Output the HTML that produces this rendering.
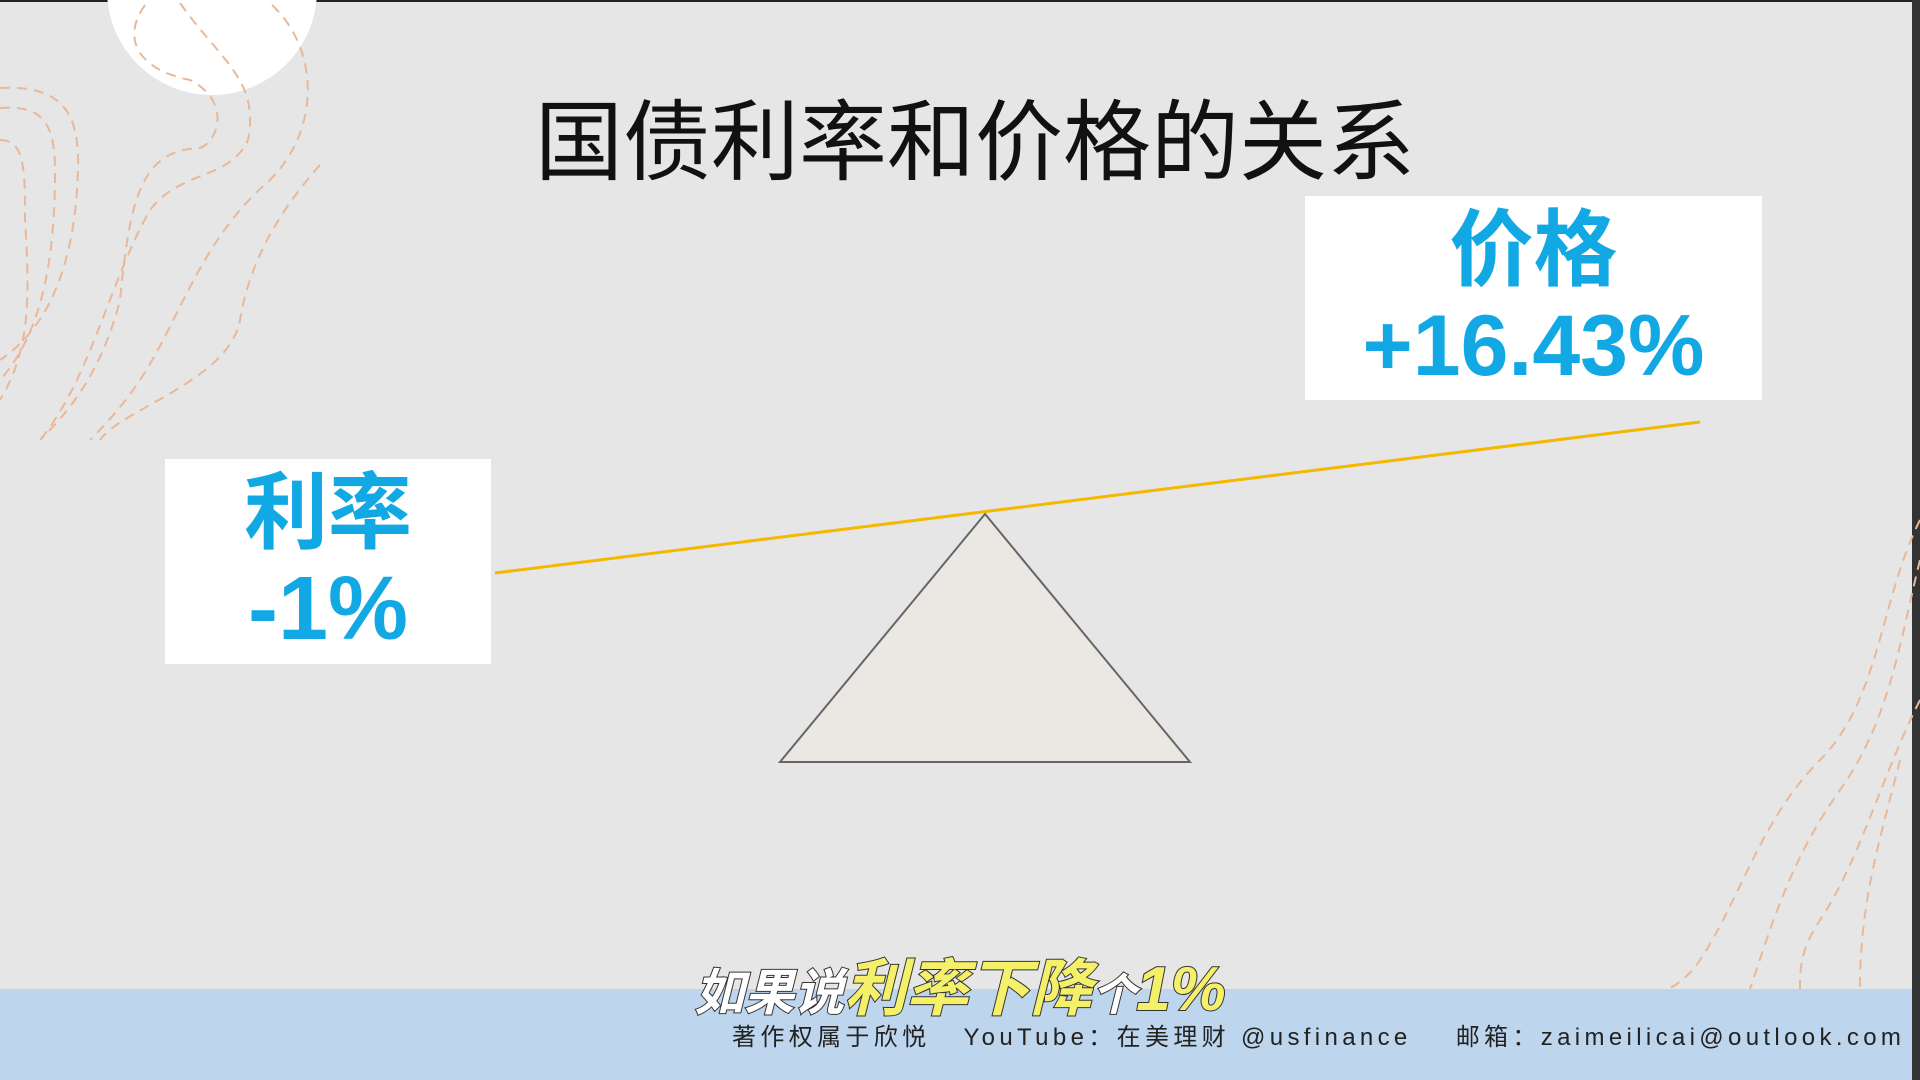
<!DOCTYPE html>
<html><head><meta charset="utf-8"><style>
body{margin:0;width:1920px;height:1080px;overflow:hidden;background:#e6e6e6;font-family:"Liberation Sans","Noto Sans CJK SC",sans-serif;position:relative}
.abs{position:absolute}
.box{background:#fff;color:#12a8e4;font-weight:bold;text-align:center}
</style></head><body>
<div class="abs" style="left:0;top:0;width:1920px;height:2px;background:#222"></div>
<div class="abs" style="left:1912px;top:0;width:8px;height:1080px;background:#333"></div>
<div class="abs" style="left:107px;top:-115px;width:210px;height:210px;border-radius:50%;background:#fff"></div>
<svg class="abs" style="left:0;top:0" width="1920" height="1080">
<g fill="none" stroke="#e8b898" stroke-width="2" stroke-dasharray="10 7">
<path d="M0 88 C60 85 80 110 78 170 C76 240 60 320 0 360"/>
<path d="M0 108 C40 105 55 120 55 170 C55 250 45 330 0 380"/>
<path d="M0 140 C25 140 25 170 25 220 C30 300 30 350 0 400"/>
<path d="M145 5 C120 40 140 70 190 80 C230 100 220 140 200 148 C140 150 130 200 120 300 C100 380 60 420 40 440"/>
<path d="M180 3 C220 60 260 80 248 140 C230 180 180 170 150 210 C110 280 90 380 40 440"/>
<path d="M272 5 C320 50 320 130 270 180 C200 240 180 320 140 380 C120 410 100 430 90 440"/>
<path d="M320 165 C280 210 250 260 240 320 C230 380 120 410 100 440"/>
<path d="M1920 520 C1880 600 1880 700 1820 760 C1760 820 1740 900 1700 960 C1680 990 1650 1000 1640 989"/>
<path d="M1920 560 C1900 640 1890 720 1840 790 C1790 860 1770 930 1750 989"/>
<path d="M1920 700 C1880 780 1860 860 1820 920 C1800 950 1800 970 1800 989"/>
<path d="M1900 760 C1880 840 1860 900 1860 989"/>
</g></svg>
<div class="abs" style="left:520px;top:72px;width:910px;text-align:center;font-size:88px;color:#111">国债利率和价格的关系</div>
<div class="abs box" style="left:1305px;top:196px;width:457px;height:204px">
<div style="font-size:84px;line-height:96px;margin-top:6px">价格</div>
<div style="font-size:86px;line-height:96px">+16.43%</div></div>
<div class="abs box" style="left:165px;top:459px;width:326px;height:205px">
<div style="font-size:84px;line-height:96px;margin-top:6px">利率</div>
<div style="font-size:90px;line-height:96px">-1%</div></div>
<svg class="abs" style="left:0;top:0" width="1920" height="1080">
<polygon points="985,514 780,762 1190,762" fill="#ebe8e3" stroke="#666" stroke-width="2"/>
<line x1="495" y1="573" x2="1700" y2="422" stroke="#f5b800" stroke-width="3"/>
</svg>
<div class="abs" style="left:0;top:989px;width:1912px;height:91px;background:#bed5ee"></div>
<div class="abs" style="left:660px;top:938px;width:600px;text-align:center;font-size:62px;font-style:italic;font-weight:bold;white-space:nowrap;-webkit-text-stroke:2px #333;paint-order:stroke fill"><span style="color:#fff;font-size:50px">如果说</span><span style="color:#f4f06a">利率下降</span><span style="color:#fff;font-size:44px">个</span><span style="color:#f4f06a">1%</span></div>
<div class="abs" style="left:732px;top:1017px;font-size:24px;letter-spacing:4.35px;color:#222;white-space:nowrap">著作权属于欣悦&nbsp;&nbsp;&nbsp;YouTube：在美理财 @usfinance&nbsp;&nbsp;&nbsp;&nbsp;邮箱：zaimeilicai@outlook.com</div>
</body></html>
